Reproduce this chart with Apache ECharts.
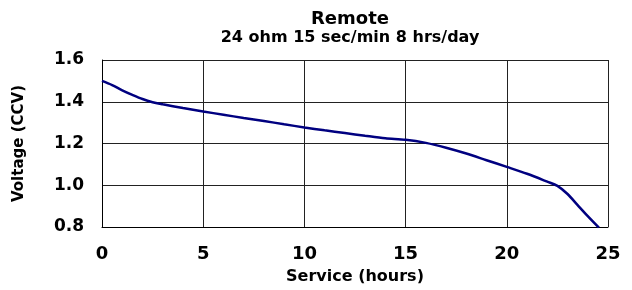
<!DOCTYPE html>
<html>
<head>
<meta charset="utf-8">
<script src="https://cdn.jsdelivr.net/npm/echarts@6/dist/echarts.min.js"></script>
<style>
  html, body { margin: 0; padding: 0; background: #fff; }
  #chart { width: 632px; height: 290px; }
</style>
</head>
<body>
<div id="chart"></div>
<script>
// service hours and closed-circuit voltage
var hours = [0, 0.5, 1, 1.5, 2, 2.5, 3, 4, 5, 6, 7, 8, 9, 10, 11, 12, 13, 14, 15,
             16, 17, 18, 19, 20, 21, 22, 22.5, 23, 23.5, 24, 24.55];
var voltage = [1.50, 1.48, 1.455, 1.433, 1.413, 1.398, 1.388, 1.37, 1.353, 1.338, 1.322, 1.308, 1.292, 1.277, 1.263, 1.25, 1.237, 1.225, 1.218,
               1.203, 1.18, 1.152, 1.12, 1.088, 1.055, 1.017, 0.997, 0.958, 0.905, 0.852, 0.797];
var xTicks = [0, 25, 5];
var yTicks = [0.8, 1.6, 0.2];

var pts = [];
for (var i = 0; i < hours.length; i++) {
    pts.push([hours[i], voltage[i]]);
}

var myChart = echarts.init(document.getElementById('chart'));
var font = 'DejaVu Sans';
option = {
    animation: false,
    title: {
        text: 'Remote',
        subtext: '24 ohm 15 sec/min 8 hrs/day',
        left: 345,
        textAlign: 'center',
        top: 5,
        itemGap: 2,
        textStyle: { fontFamily: font, fontWeight: 'bold', fontSize: 18, color: '#000' },
        subtextStyle: { fontFamily: font, fontWeight: 'bold', fontSize: 16, color: '#000' }
    },
    grid: { left: 102, right: 24, top: 60, bottom: 63 },
    xAxis: {
        type: 'value',
        min: xTicks[0], max: xTicks[1], interval: xTicks[2],
        name: 'Service (hours)',
        nameLocation: 'middle',
        nameGap: 42,
        nameTextStyle: { fontFamily: font, fontWeight: 'bold', fontSize: 16, color: '#000' },
        axisLine: { lineStyle: { color: '#000', width: 1 } },
        axisTick: { show: false },
        axisLabel: { fontFamily: font, fontWeight: 'bold', fontSize: 18, color: '#000', margin: 18 },
        splitLine: { show: true, lineStyle: { color: '#222', width: 1 } }
    },
    yAxis: {
        type: 'value',
        min: yTicks[0], max: yTicks[1], interval: yTicks[2],
        name: 'Voltage (CCV)',
        nameLocation: 'middle',
        nameGap: 75,
        nameTextStyle: { fontFamily: font, fontWeight: 'bold', fontSize: 15, color: '#000' },
        axisLine: { show: true, lineStyle: { color: '#000', width: 1 } },
        axisTick: { show: false },
        axisLabel: {
            fontFamily: font, fontWeight: 'bold', fontSize: 17, color: '#000', margin: 18,
            formatter: function (v) { return v.toFixed(1); }
        },
        splitLine: { show: true, lineStyle: { color: '#222', width: 1 } }
    },
    series: [{
        type: 'line',
        data: pts,
        smooth: 0.3,
        showSymbol: false,
        lineStyle: { color: '#000080', width: 2.5 }
    }]
};
myChart.setOption(option);
</script>
</body>
</html>
